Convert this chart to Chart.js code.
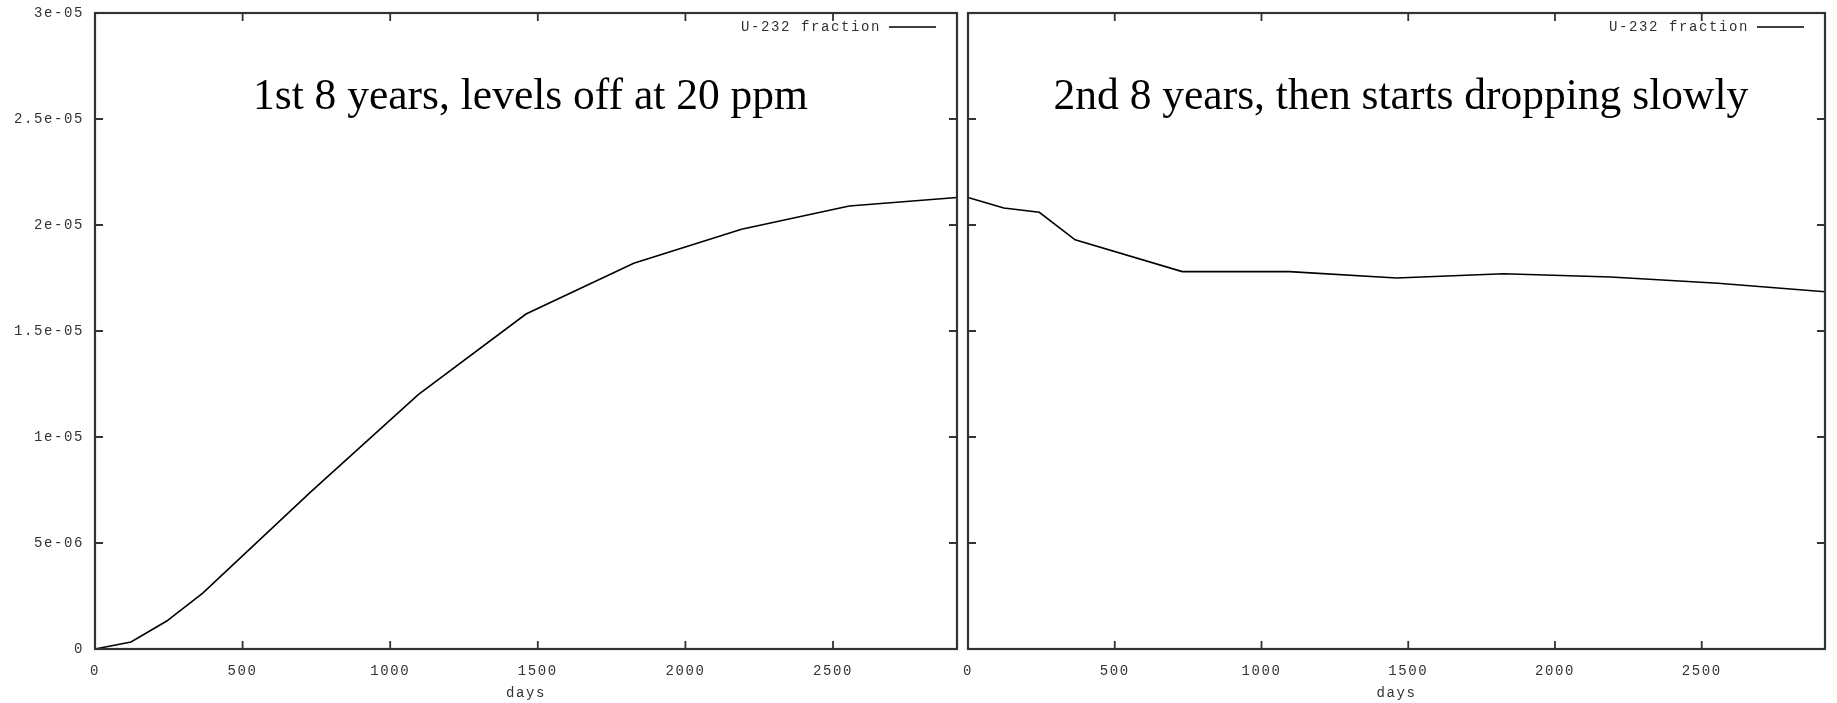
<!DOCTYPE html>
<html>
<head>
<meta charset="utf-8">
<script src="https://cdn.jsdelivr.net/npm/chart.js"></script>
<style>
  html, body { margin: 0; padding: 0; background: #fff; }
  body { width: 1837px; height: 703px; position: relative; overflow: hidden; }
  .panel { position: absolute; top: 0; height: 703px; }
  #leftPanel { left: 0; width: 962px; }
  #rightPanel { left: 962px; width: 875px; }
</style>
</head>
<body>
<div class="panel" id="leftPanel"><canvas id="firstChart" width="962" height="703"></canvas></div>
<div class="panel" id="rightPanel"><canvas id="secondChart" width="875" height="703"></canvas></div>
<script>
// days since start of each 8-year period
const days = [0, 122, 243, 365, 730, 1095, 1460, 1825, 2190, 2555, 2920];
const u232First = [0, 3.3e-7, 1.32e-6, 2.64e-6, 7.4e-6, 1.2e-5, 1.58e-5, 1.82e-5, 1.98e-5, 2.09e-5, 2.13e-5];
const u232Second = [2.13e-5, 2.08e-5, 2.06e-5, 1.93e-5, 1.78e-5, 1.78e-5, 1.75e-5, 1.77e-5, 1.755e-5, 1.725e-5, 1.685e-5];

const xTicks = [0, 500, 1000, 1500, 2000, 2500];
const xTickLabels = ['0', '500', '1000', '1500', '2000', '2500'];
const yTicks = [0, 5e-6, 1e-5, 1.5e-5, 2e-5, 2.5e-5, 3e-5];
const yTickLabels = ['0', '5e-06', '1e-05', '1.5e-05', '2e-05', '2.5e-05', '3e-05'];

const seriesLabel = 'U-232 fraction';
const titles = ['1st 8 years, levels off at 20 ppm', '2nd 8 years, then starts dropping slowly'];

const monoFont = { family: "'Liberation Mono', 'DejaVu Sans Mono', monospace", size: 14 };
const textGray = '#333';

// gnuplot style frame, inward ticks, legend and in-plot title
const gnuplotLook = {
  id: 'gnuplotLook',
  beforeDraw(chart) {
    chart.ctx.letterSpacing = '1.6px';
  },
  afterDraw(chart, args, opts) {
    const { ctx, chartArea: a, scales } = chart;
    ctx.save();
    ctx.strokeStyle = '#333';
    ctx.lineWidth = 2.2;
    ctx.strokeRect(a.left, a.top, a.right - a.left, a.bottom - a.top);
    ctx.lineWidth = 1.8;
    ctx.beginPath();
    const len = 8;
    xTicks.forEach(v => {
      const x = scales.x.getPixelForValue(v);
      ctx.moveTo(x, a.bottom); ctx.lineTo(x, a.bottom - len);
      ctx.moveTo(x, a.top); ctx.lineTo(x, a.top + len);
    });
    yTicks.forEach(v => {
      const y = scales.y.getPixelForValue(v);
      ctx.moveTo(a.left, y); ctx.lineTo(a.left + len, y);
      ctx.moveTo(a.right, y); ctx.lineTo(a.right - len, y);
    });
    ctx.stroke();

    // legend, top right inside the frame
    const ly = a.top + 14;
    const lineEnd = a.right - 21;
    const lineStart = lineEnd - 47;
    ctx.strokeStyle = '#000';
    ctx.lineWidth = 1.5;
    ctx.beginPath();
    ctx.moveTo(lineStart, ly); ctx.lineTo(lineEnd, ly);
    ctx.stroke();
    ctx.fillStyle = textGray;
    ctx.font = monoFont.size + 'px ' + monoFont.family;
    ctx.textAlign = 'right';
    ctx.textBaseline = 'middle';
    ctx.fillText(chart.data.datasets[0].label, lineStart - 8, ly);

    // panel title placed in data coordinates
    ctx.letterSpacing = '0px';
    ctx.fillStyle = '#000';
    ctx.font = "43.5px 'Liberation Serif', 'DejaVu Serif', serif";
    ctx.textAlign = 'center';
    ctx.fillText(opts.text, scales.x.getPixelForValue(1475), scales.y.getPixelForValue(2.6e-5));
    ctx.restore();
  }
};

function makeChart(id, values, title, showYLabels) {
  return new Chart(document.getElementById(id), {
    type: 'line',
    data: {
      datasets: [{
        label: seriesLabel,
        data: days.map((d, i) => ({ x: d, y: values[i] })),
        borderColor: '#000',
        borderWidth: 1.6,
        pointRadius: 0,
        tension: 0,
        clip: false
      }]
    },
    options: {
      responsive: false,
      animation: false,
      layout: { padding: { top: 13, right: showYLabels ? 5 : 12, bottom: 0, left: showYLabels ? 0 : 6 } },
      plugins: {
        legend: { display: false },
        tooltip: { enabled: false },
        gnuplotLook: { text: title }
      },
      scales: {
        x: {
          type: 'linear',
          min: 0,
          max: 2920,
          grid: { display: false },
          border: { display: false },
          afterBuildTicks: s => { s.ticks = xTicks.map(v => ({ value: v })); },
          afterFit: s => { s.height = 54; s.paddingLeft = 0; s.paddingRight = 0; },
          ticks: {
            font: monoFont,
            color: textGray,
            padding: 6,
            maxRotation: 0,
            callback: v => xTickLabels[xTicks.indexOf(v)]
          },
          title: { display: true, text: 'days', font: monoFont, color: textGray, padding: { top: 0, bottom: 1 } }
        },
        y: {
          type: 'linear',
          display: showYLabels,
          min: 0,
          max: 3e-5,
          grid: { display: false },
          border: { display: false },
          afterBuildTicks: s => { s.ticks = yTicks.map(v => ({ value: v })); },
          afterFit: s => {
            if (showYLabels) s.width = 95;
            s.paddingTop = 0;
            s.paddingBottom = 0;
          },
          ticks: {
            font: monoFont,
            color: textGray,
            padding: 3,
            callback: v => yTickLabels[yTicks.indexOf(v)]
          }
        }
      }
    },
    plugins: [gnuplotLook]
  });
}

makeChart('firstChart', u232First, titles[0], true);
makeChart('secondChart', u232Second, titles[1], false);
</script>
</body>
</html>
